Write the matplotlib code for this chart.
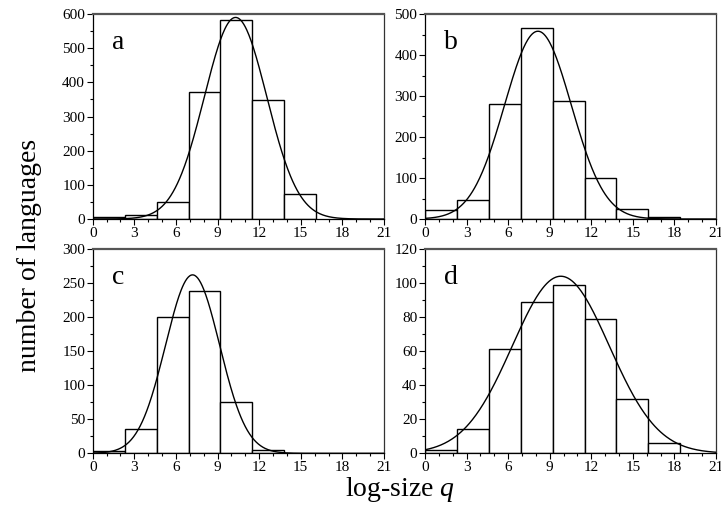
import numpy as np
import matplotlib
matplotlib.use("Agg")
import matplotlib.pyplot as plt
from matplotlib.ticker import MultipleLocator

plt.rcParams["font.family"] = ["Liberation Serif", "DejaVu Serif"]
plt.rcParams["mathtext.fontset"] = "custom"
plt.rcParams["mathtext.it"] = "Liberation Serif:italic"

# ── Data ──────────────────────────────────────────────────────────────────────
BIN_W = np.log(10)    # histogram bins are one decade wide in log-size

counts_a = [5, 11, 50, 371, 582, 349, 73]
counts_b = [21, 46, 281, 465, 289, 99, 25, 6]
counts_c = [3, 36, 200, 238, 75, 5]
counts_d = [2, 14, 61, 89, 99, 79, 32, 6]

# Gaussian fit parameters (amplitude, mean, sigma)
fit_a = (590, 10.3, 2.25)
fit_b = (458, 8.15, 2.41)
fit_c = (262, 7.2, 1.95)
fit_d = (104, 9.8, 3.5)

labels = ["a", "b", "c", "d"]
ymax = [600, 500, 300, 120]
ymajor = [100, 100, 50, 20]

panels = [counts_a, counts_b, counts_c, counts_d]
fits = [fit_a, fit_b, fit_c, fit_d]

# ── Layout (pixel positions of the four frames) ───────────────────────────────
W, H = 721, 516
fig = plt.figure(figsize=(W / 100, H / 100), dpi=100)
boxes = [(92.7, 14, 384, 219), (425, 14, 716, 219),
         (92.7, 249, 384, 453.3), (425, 249, 716, 453.3)]

q = np.linspace(0, 21, 400)
for counts, (amp, mu, sig), lab, ym, ymj, (x0, y0, x1, y1) in zip(
        panels, fits, labels, ymax, ymajor, boxes):
    ax = fig.add_axes([x0 / W, 1 - y1 / H, (x1 - x0) / W, (y1 - y0) / H])
    left = np.arange(len(counts)) * BIN_W
    ax.bar(left, counts, width=BIN_W, align="edge", facecolor="white",
           edgecolor="black", lw=1.0, zorder=2)
    ax.plot(q, amp * np.exp(-(q - mu) ** 2 / (2 * sig ** 2)), color="black",
            lw=1.0, zorder=3)
    ax.set_xlim(0, 21)
    ax.set_ylim(0, ym)
    ax.xaxis.set_major_locator(MultipleLocator(3))
    ax.xaxis.set_minor_locator(MultipleLocator(1))
    ax.yaxis.set_major_locator(MultipleLocator(ymj))
    ax.yaxis.set_minor_locator(MultipleLocator(ymj / 2))
    ax.tick_params(which="both", direction="out", top=False, right=False,
                   labelsize=11, pad=1.5, width=0.8)
    ax.tick_params(which="major", length=4)
    ax.tick_params(which="minor", length=2.5)
    for s in ["left", "bottom", "right"]:
        ax.spines[s].set_linewidth(0.9)
    ax.spines["top"].set_linewidth(1.6)
    ax.spines["top"].set_color("#555555")
    ax.spines["right"].set_color("#333333")
    ax.text(0.065, 0.83, lab, transform=ax.transAxes, fontsize=20,
            ha="left", va="baseline")

fig.text(30 / W, 1 - 255 / H, "number of languages", rotation=90,
         fontsize=20, ha="center", va="center")
fig.text(400 / W, 1 - 490 / H, "log-size $q$", fontsize=20,
         ha="center", va="center")

fig.savefig("out.png", dpi=100)
